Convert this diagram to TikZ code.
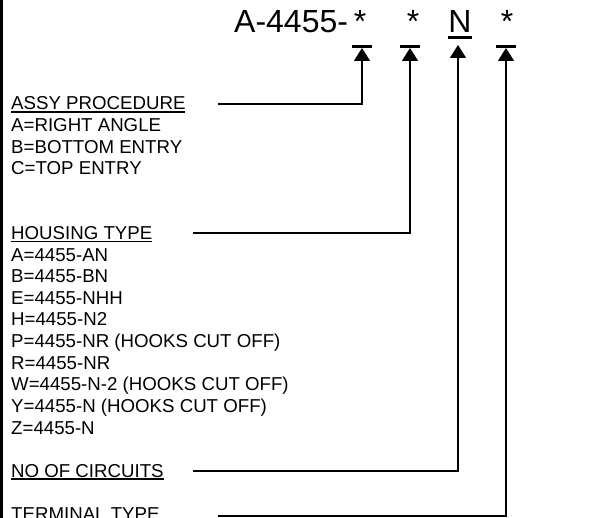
\documentclass[tikz,border=0pt]{standalone}
\usepackage{fontspec}
\setmainfont{Liberation Sans}
\usetikzlibrary{arrows.meta}
\newcommand\ulx[1]{\setbox0\hbox{#1}\rlap{\rule[-2.6pt]{\wd0}{1.4pt}}\box0}
\tikzset{
  lbl/.style={anchor=base west, inner sep=0pt, font=\fontsize{18.67}{21.6}\selectfont},
  ttl/.style={anchor=base, inner sep=0pt, font=\fontsize{32}{38}\selectfont},
  conn/.style={line width=1.6pt, -{Triangle[length=13pt,width=16pt]}},
  tbar/.style={fill=black},
}
\begin{document}
\begin{tikzpicture}[x=1pt,y=-1pt]
\useasboundingbox (0,0) rectangle (594,518);
% left border
\draw[line width=3pt] (1.5,0) -- (1.5,518);
% title
\node[ttl, anchor=base west] (t) at (234,33) {A-4455-};
\node[ttl] (s1) at (360,33) {*};
\node[ttl] (s2) at (413,33) {*};
\node[ttl] (nn) at (460,33) {N};
\node[ttl] (s4) at (507,33) {*};
\draw[line width=2.4pt] ([yshift=-4.5pt]nn.base west) -- ([yshift=-4.5pt]nn.base east);
% labels
\node[lbl] (assy) at (11,110) {\ulx{ASSY PROCEDURE}};
\node[lbl] (assya) at (11,131.6) {A=RIGHT ANGLE};
\node[lbl] (assyb) at (11,153.2) {B=BOTTOM ENTRY};
\node[lbl] (assyc) at (11,174.8) {C=TOP ENTRY};
\node[lbl] (hous) at (11,239.6) {\ulx{HOUSING TYPE}};
\node[lbl] (ha) at (11,261.2) {A=4455-AN};
\node[lbl] (hb) at (11,282.8) {B=4455-BN};
\node[lbl] (he) at (11,304.4) {E=4455-NHH};
\node[lbl] (hh) at (11,326) {H=4455-N2};
\node[lbl] (hp) at (11,347.6) {P=4455-NR (HOOKS CUT OFF)};
\node[lbl] (hr) at (11,369.2) {R=4455-NR};
\node[lbl] (hw) at (11,390.8) {W=4455-N-2 (HOOKS CUT OFF)};
\node[lbl] (hy) at (11,412.4) {Y=4455-N (HOOKS CUT OFF)};
\node[lbl] (hz) at (11,434) {Z=4455-N};
\node[lbl] (circ) at (11,477.2) {\ulx{NO OF CIRCUITS}};
\node[lbl] (term) at (11,520.4) {\ulx{TERMINAL TYPE}};
% connector ends
\coordinate (e1) at (218,104);
\coordinate (k1) at (362,48);
\coordinate (e2) at (193,233);
\coordinate (k2) at (410,48);
\coordinate (e3) at (193,471);
\coordinate (k3) at (458,45);
\coordinate (e4) at (218,516);
\coordinate (k4) at (506,48);
\draw[conn] (e1) -| (k1);
\draw[conn] (e2) -| (k2);
\draw[conn] (e3) -| (k3);
\draw[conn] (e4) -| (k4);
% bars above the arrow tips
\fill[tbar] ([xshift=-10pt]k1) rectangle ([xshift=10pt,yshift=3pt]k1);
\fill[tbar] ([xshift=-10pt]k2) rectangle ([xshift=10pt,yshift=3pt]k2);
\fill[tbar] ([xshift=-10pt]k4) rectangle ([xshift=10pt,yshift=3pt]k4);
\end{tikzpicture}
\end{document}
